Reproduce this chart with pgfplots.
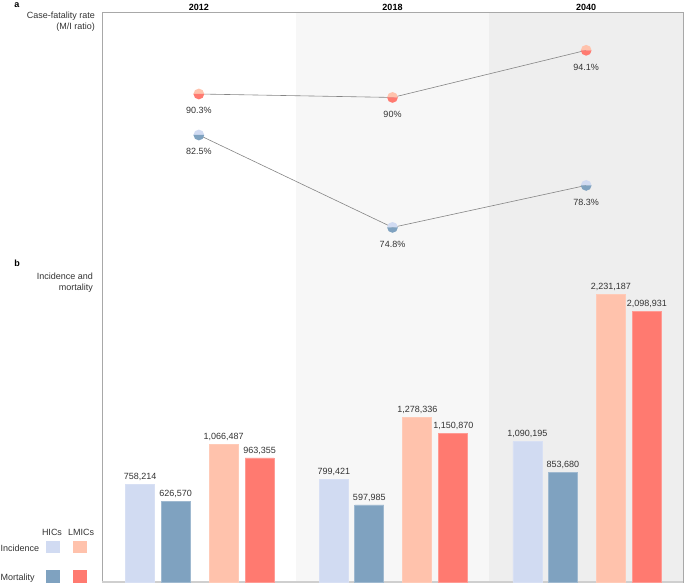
\documentclass[border=0pt]{standalone}
\usepackage{pgfplots}
\pgfplotsset{compat=1.18}
\usepackage{fontspec}
\setmainfont{Liberation Sans}
\usetikzlibrary{plotmarks}
\definecolor{hicinc}{HTML}{D1DBF2}
\definecolor{hicmort}{HTML}{7FA2C0}
\definecolor{lmicinc}{HTML}{FFC2AC}
\definecolor{lmicmort}{HTML}{FF7A70}
\definecolor{bgtwo}{HTML}{F7F7F7}
\definecolor{bgthree}{HTML}{EEEEEE}
\definecolor{frame}{HTML}{A8A8A8}
\definecolor{botline}{HTML}{CFCFCF}
\definecolor{txt}{HTML}{333333}
\definecolor{lineg}{HTML}{858585}
\begin{document}
\begin{tikzpicture}[x=1pt,y=1pt,font=\fontsize{9}{10.5}\selectfont]
% background frame and columns
\begin{axis}[scale only axis, width=581pt, height=570pt, at={(102pt,2pt)}, anchor=south west,
  xmin=0, xmax=3, ymin=0, ymax=1,
  xtick={0.5,1.5,2.5}, xticklabels={2012,2018,2040}, xticklabel pos=upper,
  ytick=\empty, major tick length=0pt, axis on top,
  axis line style={draw=frame, line width=0.9pt},
  xticklabel style={font=\fontsize{9}{10}\selectfont\bfseries, text=black, inner sep=1pt}]
\fill[bgtwo] (axis cs:1,0) rectangle (axis cs:2,1);
\fill[bgthree] (axis cs:2,0) rectangle (axis cs:3,1);
\end{axis}
\draw[botline, line width=2pt] (102,2) -- (683,2);
% case-fatality LMICs
\begin{axis}[scale only axis, width=581pt, height=238pt, at={(102pt,334pt)}, anchor=south west,
  xmin=0, xmax=3, ymin=76.735, ymax=97.43, hide axis, clip=false]
\addplot[color=lineg, line width=0.6pt, mark=halfcircle*, mark size=5.4pt,
  mark options={fill=lmicinc, mark color=lmicmort, draw opacity=0},
  point meta=explicit symbolic, nodes near coords={\pgfplotspointmeta\%},
  every node near coord/.append style={anchor=north, yshift=-10pt, text=txt}]
  table[meta=lab] {
x y lab
0.5 90.3 90.3
1.5 90.0 90
2.5 94.1 94.1
};
\end{axis}
% case-fatality HICs
\begin{axis}[scale only axis, width=581pt, height=238pt, at={(102pt,334pt)}, anchor=south west,
  xmin=0, xmax=3, ymin=72.917, ymax=92.75, hide axis, clip=false]
\addplot[color=lineg, line width=0.6pt, mark=halfcircle*, mark size=5.4pt,
  mark options={fill=hicinc, mark color=hicmort, draw opacity=0},
  point meta=explicit symbolic, nodes near coords={\pgfplotspointmeta\%},
  every node near coord/.append style={anchor=north, yshift=-10pt, text=txt}]
  table[meta=lab] {
x y lab
0.5 82.5 82.5
1.5 74.8 74.8
2.5 78.3 78.3
};
\end{axis}
% incidence and mortality bars
\begin{axis}[scale only axis, width=581pt, height=570pt, at={(102pt,2pt)}, anchor=south west,
  xmin=0, xmax=3, ymin=0, ymax=4425500, hide axis, clip=false,
  every axis plot/.append style={ybar, bar width=29pt, line width=0.7pt,
    nodes near coords={\pgfkeys{/pgf/number format/.cd,fixed,precision=0,1000 sep={,},assume math mode=true}\pgfmathprintnumber{\pgfplotspointmeta}},
    every node near coord/.append style={text=txt, font=\fontsize{9}{10}\selectfont}}]
\addplot[fill=hicinc, draw=hicinc!85!white] coordinates {(0.197,758214) (1.197,799421) (2.197,1090195)};
\addplot[fill=hicmort, draw=hicmort!75!white] coordinates {(0.38,626570) (1.38,597985) (2.38,853680)};
\addplot[fill=lmicinc, draw=lmicinc!85!white] coordinates {(0.628,1066487) (1.628,1278336) (2.628,2231187)};
\addplot[fill=lmicmort, draw=lmicmort!75!white] coordinates {(0.814,963355) (1.814,1150870) (2.814,2098931)};
\end{axis}
% panel labels
\node[font=\fontsize{9}{10}\selectfont\bfseries] at (17,579) {a};
\node[anchor=north east, align=right, inner sep=0pt, text=txt] at (95,572) {Case-fatality rate\\(M/I ratio)};
\node[font=\fontsize{9}{10}\selectfont\bfseries] at (17,321) {b};
\node[anchor=north east, align=right, inner sep=0pt, text=txt] at (93,311) {Incidence and\\mortality};
% legend
\node[text=txt] at (52,52) {HICs};
\node[text=txt] at (81,52) {LMICs};
\node[anchor=west, inner sep=0pt, text=txt] at (0.5,36) {Incidence};
\node[anchor=west, inner sep=0pt, text=txt] at (0.5,6) {Mortality};
\fill[hicinc] (46,31) rectangle (60,43);
\fill[lmicinc] (73,31) rectangle (87,43);
\fill[hicmort] (46,1) rectangle (60,14);
\fill[lmicmort] (73,1) rectangle (87,14);
\pgfresetboundingbox
\useasboundingbox (0,0) rectangle (685,584);
\end{tikzpicture}
\end{document}
